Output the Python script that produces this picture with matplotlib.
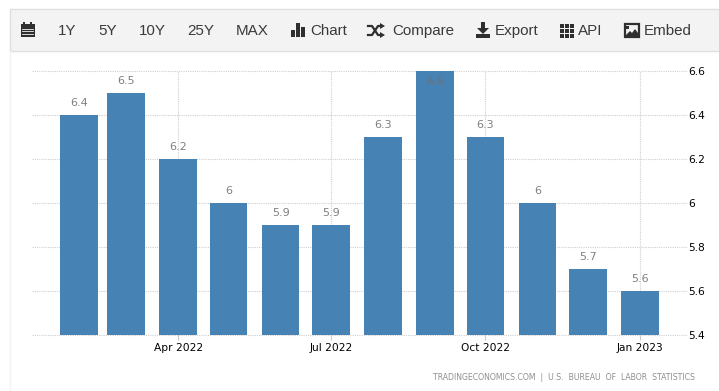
import numpy as np
from matplotlib import pyplot as plt
from matplotlib.patches import Rectangle, Polygon

months = np.array(["2022-02-01", "2022-03-01", "2022-04-01", "2022-05-01", "2022-06-01", "2022-07-01",
                   "2022-08-01", "2022-09-01", "2022-10-01", "2022-11-01", "2022-12-01", "2023-01-01"],
                  dtype="datetime64[D]")
values = [6.4, 6.5, 6.2, 6, 5.9, 5.9, 6.3, 6.6, 6.3, 6, 5.7, 5.6]
labels = ["6.4", "6.5", "6.2", "6", "5.9", "5.9", "6.3", "6.6", "6.3", "6", "5.7", "5.6"]
xtick_dates = np.array(["2022-04-01", "2022-07-01", "2022-10-01", "2023-01-01"], dtype="datetime64[D]")
xtick_labels = ["Apr 2022", "Jul 2022", "Oct 2022", "Jan 2023"]
yticks = [5.4, 5.6, 5.8, 6, 6.2, 6.4, 6.6]
ytick_labels = ["5.4", "5.6", "5.8", "6", "6.2", "6.4", "6.6"]
menu = [("1Y", 58), ("5Y", 98), ("10Y", 139), ("25Y", 187), ("MAX", 236), ("Chart", 310),
        ("Compare", 392), ("Export", 495), ("API", 578), ("Embed", 644)]
source = "TRADINGECONOMICS.COM  |  U.S.  BUREAU  OF  LABOR  STATISTICS"

W, H = 719, 391
fig = plt.figure(figsize=(W / 100, H / 100), dpi=100)

# page chrome in pixel coordinates
bg = fig.add_axes([0, 0, 1, 1])
bg.set_xlim(0, W)
bg.set_ylim(H, 0)
bg.axis("off")
bg.add_patch(Rectangle((10, 9), 720, 42, fc="#f3f3f3", ec="#dfdfdf", lw=1))
bg.plot([10, 10], [51, H], color="#f2f2f2", lw=1)
for name, x in menu:
    bg.text(x, 31, name, family="Liberation Sans", fontsize=10.9, color="#3a3a3a", va="center", ha="left")

ic = "#2f2f2f"
# calendar
bg.add_patch(Rectangle((20.5, 24), 14, 13, fc=ic, ec="none"))
bg.add_patch(Rectangle((23, 22), 2, 3, fc=ic, ec="none"))
bg.add_patch(Rectangle((30, 22), 2, 3, fc=ic, ec="none"))
for yy in [28.5, 31, 33.5]:
    bg.plot([22, 33], [yy, yy], color="#f3f3f3", lw=0.6)
# bars
bg.add_patch(Rectangle((291, 30), 4, 7, fc=ic, ec="none"))
bg.add_patch(Rectangle((296, 23), 4, 14, fc=ic, ec="none"))
bg.add_patch(Rectangle((301, 27), 4, 10, fc=ic, ec="none"))
# shuffle
bg.plot([368, 372, 378, 381], [26, 26, 35, 35], color=ic, lw=1.6)
bg.plot([368, 372, 378, 381], [35, 35, 26, 26], color=ic, lw=1.6)
bg.add_patch(Polygon([(380, 23), (385, 26), (380, 29)], fc=ic, ec="none"))
bg.add_patch(Polygon([(380, 32), (385, 35), (380, 38)], fc=ic, ec="none"))
# download
bg.add_patch(Rectangle((481, 22), 4, 7, fc=ic, ec="none"))
bg.add_patch(Polygon([(477, 28), (489, 28), (483, 34)], fc=ic, ec="none"))
bg.add_patch(Rectangle((476, 34), 14, 3.5, fc=ic, ec="none"))
# api grid
for gx in [559.5, 564.5, 569.5]:
    for gy in [23.5, 28.5, 33.5]:
        bg.add_patch(Rectangle((gx, gy), 4, 4, fc=ic, ec="none"))
# image
bg.add_patch(Rectangle((624.5, 24), 14, 12.5, fc="#f3f3f3", ec=ic, lw=1.6))
bg.add_patch(Rectangle((626, 26), 3, 3, fc=ic, ec="none"))
bg.add_patch(Polygon([(625, 36), (630, 31), (632, 33), (635, 29), (638, 33), (638, 36)], fc=ic, ec="none"))

bg.text(695, 377, source, family="DejaVu Sans", fontsize=5.55, color="#8f8f8f", ha="right", va="center")

# chart
ax = fig.add_axes([32 / W, (H - 335) / H, (687 - 32) / W, 264 / H])
ax.patch.set_alpha(0)
ax.bar(months, values, width=22.5, color="#4682b4", zorder=3)
ax.set_xlim(np.datetime64("2022-01-04"), np.datetime64("2023-01-29"))
ax.set_ylim(5.4, 6.6)
for m, v, s in zip(months, values, labels):
    if v >= 6.6:
        ax.annotate(s, (m, v), xytext=(0, -8), textcoords="offset points", ha="center", va="center",
                    fontsize=8, color="#66727f", zorder=4)
    else:
        ax.annotate(s, (m, v), xytext=(0, 8.5), textcoords="offset points", ha="center", va="center",
                    fontsize=8, color="#808080", zorder=4)
ax.set_xticks(xtick_dates)
ax.set_xticklabels(xtick_labels)
ax.set_yticks(yticks)
ax.set_yticklabels(ytick_labels)
ax.yaxis.tick_right()
ax.tick_params(axis="x", length=3.5, width=0.8, color="#cccccc", labelsize=7.7, labelcolor="#000000", pad=2)
ax.tick_params(axis="y", length=0, labelsize=7.7, labelcolor="#000000", pad=1)
ax.grid(True, color="#cfcfcf", linestyle=(0, (1, 1)), lw=0.8, zorder=0)
ax.set_axisbelow(True)
for sp in ax.spines.values():
    sp.set_visible(False)
for gl in ax.get_ygridlines() + ax.get_xgridlines():
    gl.set_clip_on(False)

fig.savefig("out.png", dpi=100)
